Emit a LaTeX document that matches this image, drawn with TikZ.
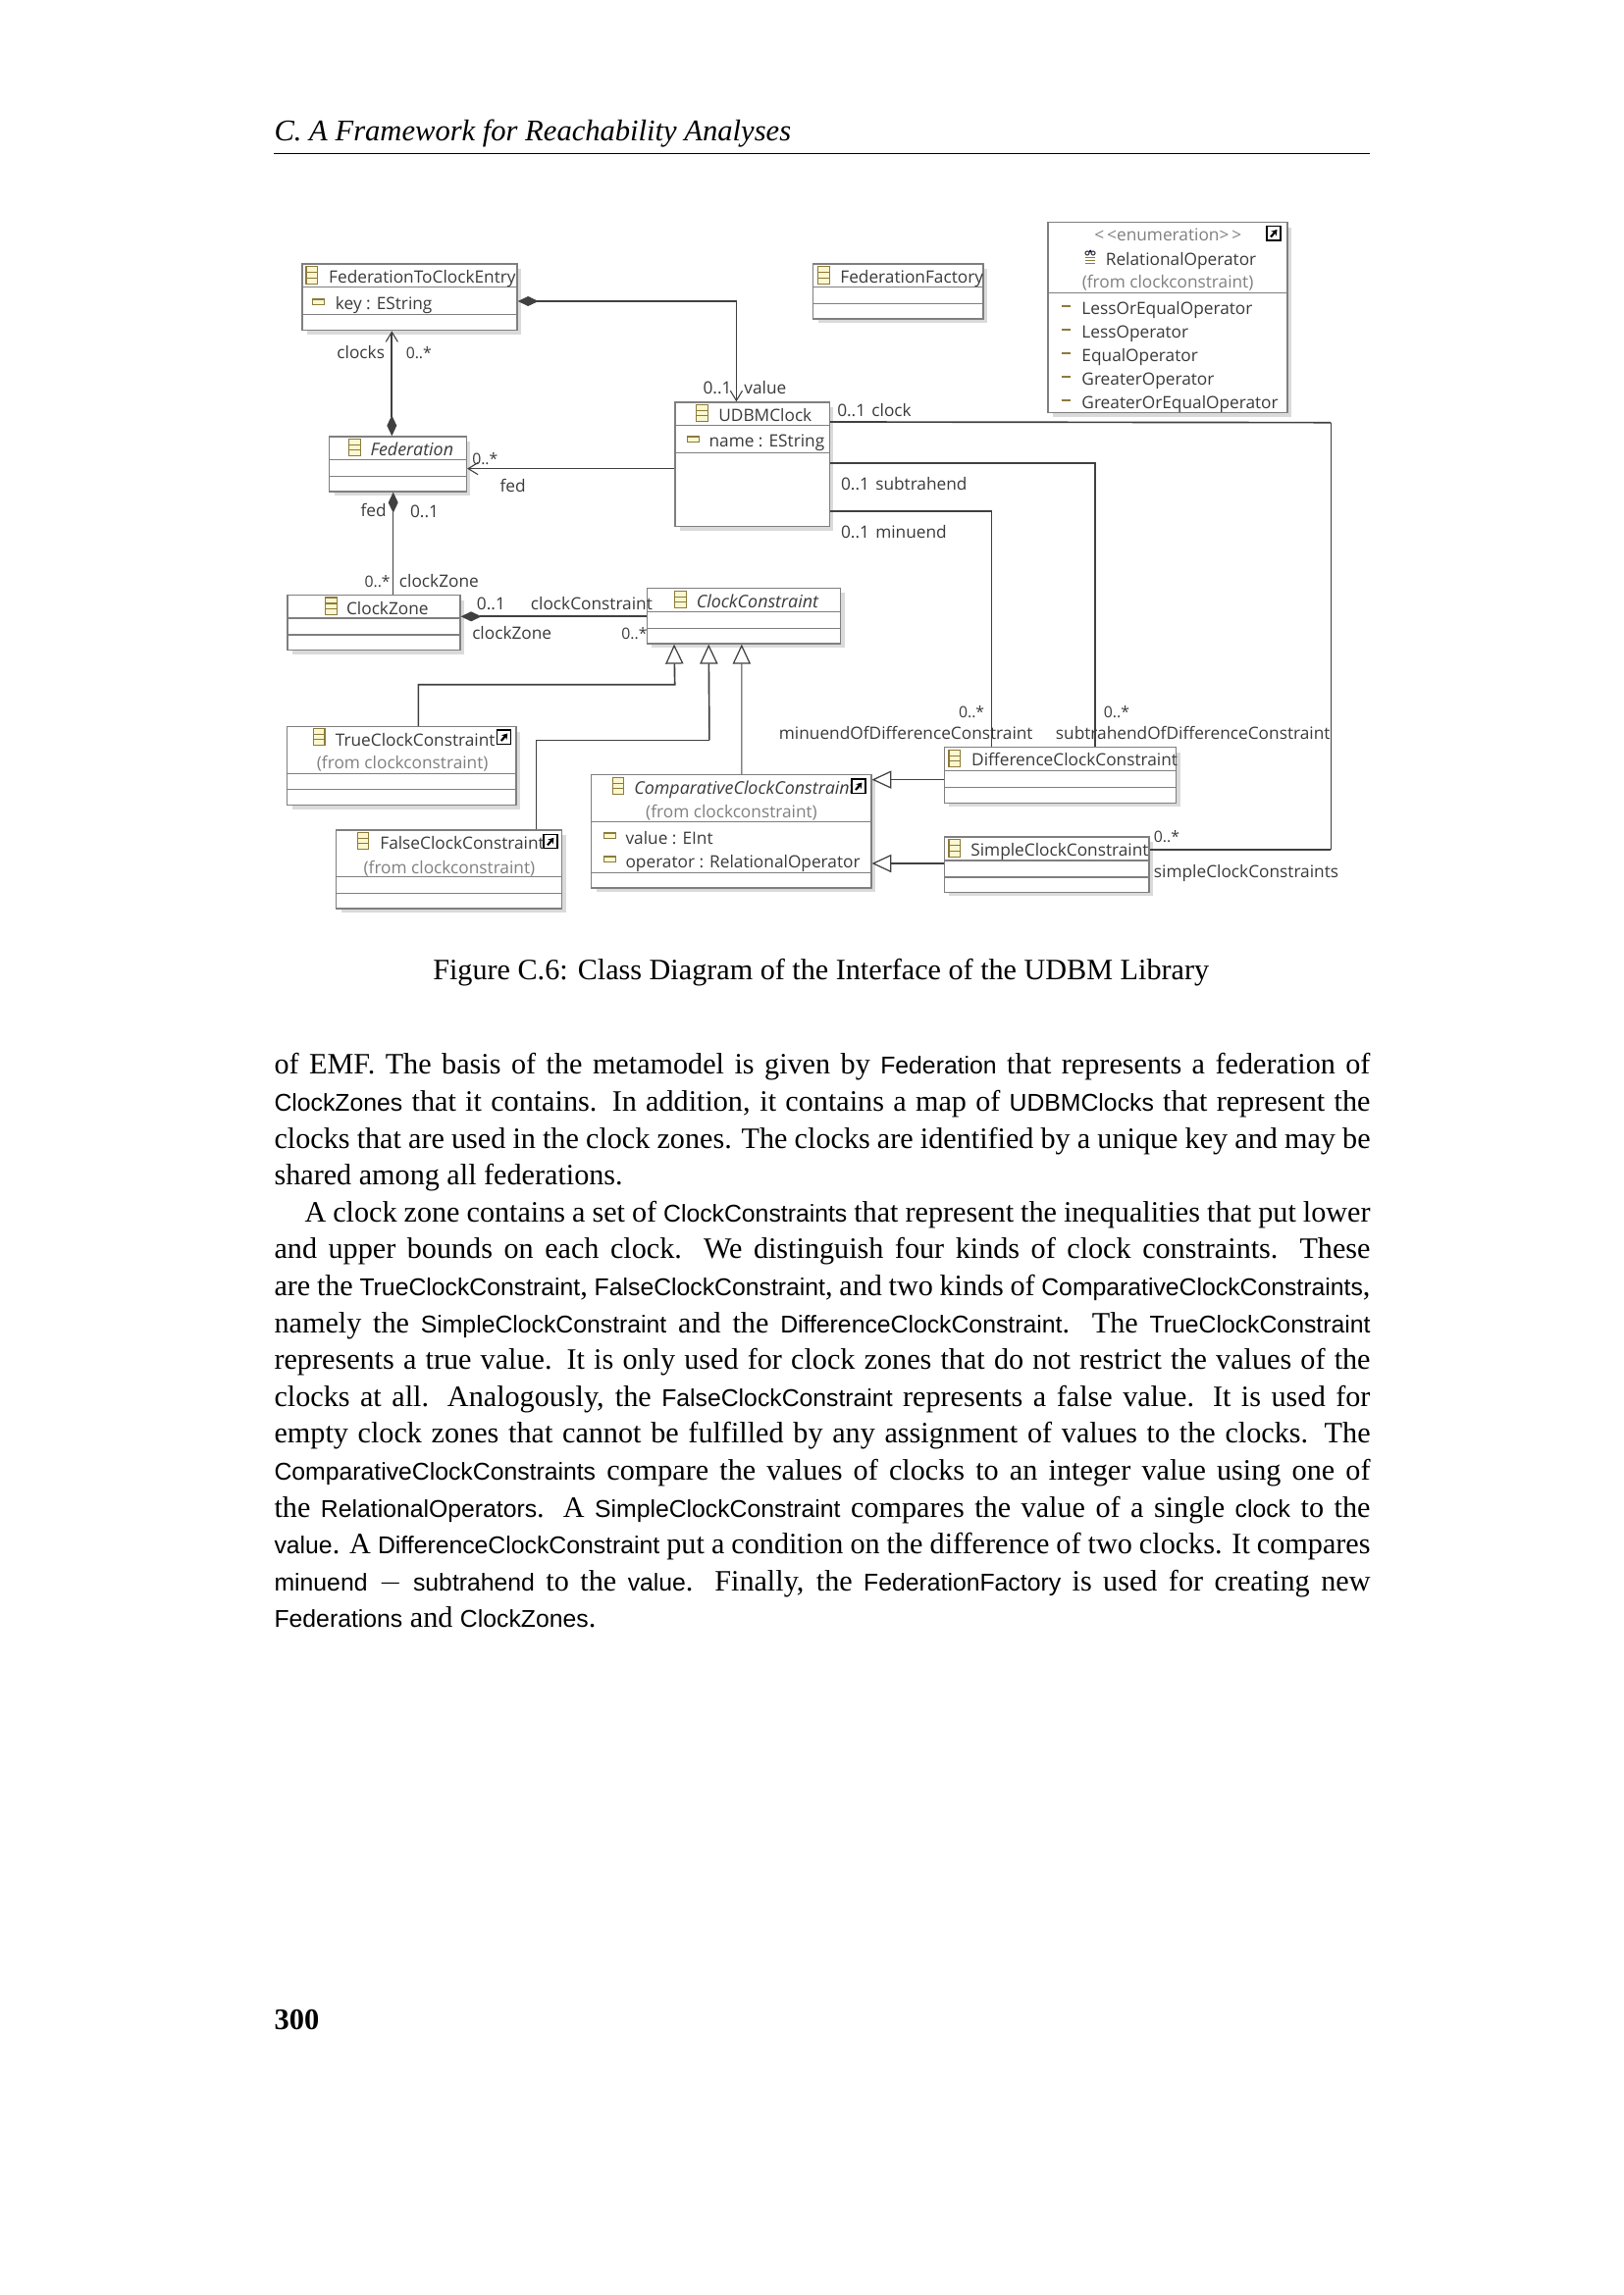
\documentclass[tikz,border=0pt]{standalone}
\usepackage{fontspec}
\setmainfont{Liberation Serif}
\setsansfont{Liberation Sans}
\newfontfamily\umlf{Open Sans}
\usetikzlibrary{arrows.meta,fit}
\definecolor{umlline}{HTML}{404040}
\definecolor{umlbox}{HTML}{7F7F7F}
\definecolor{umlshade}{HTML}{DADADA}
\definecolor{umltext}{HTML}{3A3A3A}
\definecolor{umlgray}{HTML}{808080}
\definecolor{iconedge}{HTML}{8C7A3C}
\definecolor{iconfill}{HTML}{FBF7CF}
\tikzset{
  classnode/.style={draw=umlbox,line width=0.5pt,fill=white,inner sep=0pt},
  compart/.style={draw=umlbox,line width=0.45pt},
  lbl/.style={anchor=base west,inner sep=0pt,text=umltext,font=\umlf\fontsize{6.24}{7}\selectfont},
  graylbl/.style={lbl,text=umlgray},
  itlbl/.style={lbl,font=\umlf\itshape\fontsize{6.45}{7}\selectfont},
  multlbl/.style={lbl,font=\umlf\fontsize{5.7}{7}\selectfont},
  thinline/.style={draw=umlline,line width=0.36pt},
  thickline/.style={draw=umlline,line width=0.6pt},
  openend/.style={-{Straight Barb[length=3.6pt,width=4.4pt,line width=0.4pt]}},
  diamondend/.style={{Diamond[length=7.6pt,width=3.6pt,fill=umlline]}-},
  diamondopen/.style={{Diamond[length=7.6pt,width=3.6pt,fill=umlline]}-{Straight Barb[length=3.6pt,width=4.4pt,line width=0.4pt]}},
  genend/.style={-{Triangle[open,length=7.2pt,width=6.6pt,line width=0.45pt,fill=white]}}
}
\newcommand{\umlclass}[7]{%
  \fill[umlshade] (#2+5,#3+5) rectangle (#4+4,#5+4);
  \node[classnode,fit={(#2,#3)(#4,#5)}] (#1) {};
  \draw[compart] (#2,#6) -- (#4,#6) (#2,#7) -- (#4,#7);
}
\newcommand{\classicon}[2]{%
  \draw[draw=iconedge,fill=iconfill,line width=0.4pt] (#1,#2) rectangle (#1+11.5,#2+17.5);
  \draw[draw=iconedge,line width=0.4pt] (#1,#2+6) -- (#1+11.5,#2+6) (#1,#2+11.5) -- (#1+11.5,#2+11.5);
}
\newcommand{\attricon}[2]{%
  \draw[draw=iconedge,fill=iconfill,line width=0.35pt] (#1,#2) rectangle (#1+12,#2+6);
  \draw[draw=iconedge,line width=0.6pt] (#1,#2+0.5) -- (#1+12,#2+0.5);
}
\newcommand{\shortcut}[2]{%
  \draw[draw=black,fill=white,line width=0.4pt] (#1,#2) rectangle (#1+14,#2+14.5);
  \draw[draw=black,line width=0.8pt,-{Stealth[length=2pt,width=2.6pt]}] (#1+4,#2+11) -- (#1+10.5,#2+3.5);
}
\newcommand{\term}[1]{{\sffamily\fontsize{8.95}{13.59}\selectfont #1}}
\newcommand{\jline}[1]{\hbox to 403.6pt{#1}\par}
\begin{document}
\begin{tikzpicture}[x=0.36135pt,y=-0.36135pt]
\useasboundingbox (0,0) rectangle (1654,2339);
\node[anchor=base west,inner sep=0pt,font=\itshape\fontsize{11.05}{13.59}\selectfont] (head) at (279,143.5) {C. A Framework for Reachability Analyses};
\coordinate (ruleL) at (279,156.3);
\coordinate (ruleR) at (1396,156.3);
\draw[line width=0.4pt] (ruleL) -- (ruleR);

\umlclass{entry}{307.9}{269}{527}{336.7}{292.7}{320.7}
\umlclass{fact}{828.6}{269}{1002}{325}{292.7}{309.3}
\umlclass{relop}{1067.8}{226.7}{1312}{420.7}{298.3}{298.3}
\umlclass{fed}{335.7}{445}{475.4}{501}{468.3}{485.3}
\umlclass{udbm}{687.9}{410}{845.4}{536.7}{433.3}{461.7}
\umlclass{zone}{292.9}{606.7}{468.9}{662.7}{630}{647}
\umlclass{constr}{659.3}{599.3}{856.5}{656}{623.3}{640.3}
\umlclass{trueC}{292.7}{740.7}{526}{820.7}{788.3}{804.7}
\umlclass{falseC}{342.5}{846}{572.6}{926}{893.7}{910.7}
\umlclass{compC}{602.7}{789.7}{887.8}{905}{837.3}{889.3}
\umlclass{diffC}{962.3}{761.7}{1198.7}{818.3}{785.3}{802.3}
\umlclass{simpleC}{962.3}{853}{1171}{909.3}{877}{894}

\coordinate (entryR) at ([shift={(0,4.15)}]entry.east);
\coordinate (valueUp) at ([shift={(63.2,0)}]udbm.north west);
\draw[thickline,diamondopen] (entryR) -| (valueUp);
\coordinate (fedUp) at ([shift={(64.3,0)}]fed.north west);
\draw[thickline,diamondopen] (fedUp) -- (fedUp |- entry.south);
\coordinate (udbmL) at ([shift={(0,68.3)}]udbm.north west);
\draw[thinline,openend] (udbmL) -- (udbmL -| fed.east);
\coordinate (fedDown) at ([shift={(65.7,0)}]fed.south west);
\draw[thinline,diamondend] (fedDown) -- (fedDown |- zone.north);
\coordinate (zoneR) at ([shift={(0,22.3)}]zone.north east);
\draw[thickline,diamondend] (zoneR) -- (zoneR -| constr.west);

\coordinate (clockR) at ([shift={(0,20.7)}]udbm.north east);
\coordinate (simpleR) at ([shift={(0,13.7)}]simpleC.north east);
\coordinate (clockCorner) at (1356.4,430.7);
\draw[thickline] (clockR) -- (clockCorner);
\draw[thinline] (clockCorner) -- (clockCorner |- simpleR);
\draw[thickline] (clockCorner |- simpleR) -- (simpleR);
\coordinate (subR) at ([shift={(0,62.7)}]udbm.north east);
\coordinate (subD) at ([shift={(154.7,0)}]diffC.north west);
\draw[thickline] (subR) -| (subD);
\coordinate (minR) at ([shift={(0,112)}]udbm.north east);
\coordinate (minD) at ([shift={(49,0)}]diffC.north west);
\draw[thickline] (minR) -- (minR -| minD);
\draw[thinline] (minR -| minD) -- (minD);

\coordinate (gA) at ([shift={(28.4,0)}]constr.south west);
\coordinate (gB) at ([shift={(63.6,0)}]constr.south west);
\coordinate (gC) at ([shift={(97.2,0)}]constr.south west);
\coordinate (tTrue) at ([shift={(134.4,0)}]trueC.north west);
\coordinate (tFalse) at ([shift={(204.4,0)}]falseC.north west);
\coordinate (tComp) at ([shift={(153.8,0)}]compC.north west);
\draw[thickline,genend] (tTrue) |- (687.7,697.7) -- (gA);
\draw[thinline] (tFalse) |- (722.9,754.3);
\draw[thickline,genend] (722.9,754.3) -- (gB);
\draw[thinline,genend] (tComp) -- (gC);
\coordinate (compE1) at ([shift={(0,5.6)}]compC.north east);
\coordinate (compE2) at ([shift={(0,91)}]compC.north east);
\draw[thinline,genend] (compE1 -| diffC.west) -- (compE1);
\draw[thickline,genend] (compE2 -| simpleC.west) -- (compE2);

\classicon{312}{271.7}
\classicon{833.6}{271.7}
\classicon{355.7}{447.3}
\classicon{709.6}{412.3}
\classicon{331.8}{609}
\classicon{687.9}{602.3}
\classicon{319.5}{742.3}
\classicon{364.2}{848.3}
\classicon{624.4}{792.3}
\classicon{967}{764.3}
\classicon{967}{855.7}
\attricon{318.6}{304.3}
\attricon{700.4}{444.3}
\attricon{615.3}{848.3}
\attricon{615.3}{872.3}
\shortcut{506.8}{744}
\shortcut{554}{850.3}
\foreach \ly in {312,336,360,384,408}
  \draw[draw=iconedge,line width=0.7pt] (1081.6,\ly) -- (1091,\ly);
\draw[draw=iconedge,line width=0.5pt] (1106,262.5) -- (1116,262.5) (1106,265.5) -- (1116,265.5) (1106,268.5) -- (1116,268.5);
\draw[draw=umlline,line width=0.4pt] (1108,258) circle (2) (1114,258) circle (2);
\fill[blue!40!black] (1111,256) circle (1.5);

\node[lbl] (nEntry) at (334.6,289) {FederationToClockEntry};
\node[lbl] (nKey) at (341.4,315.3) {key : EString};
\node[lbl] (nFact) at (855.8,289) {FederationFactory};
\node[graylbl] (nStereo) at (1114.9,246) {<\,<enumeration>\,>};
\node[lbl] (nRelop) at (1126.3,270.7) {RelationalOperator};
\node[graylbl] (nFromA) at (1102.2,294) {(from clockconstraint)};
\node[lbl] (nLitA) at (1101.9,321) {LessOrEqualOperator};
\node[lbl] (nLitB) at (1101.9,345) {LessOperator};
\node[lbl] (nLitC) at (1101.9,369) {EqualOperator};
\node[lbl] (nLitD) at (1101.9,393) {GreaterOperator};
\node[lbl] (nLitE) at (1101.9,417) {GreaterOrEqualOperator};
\node[itlbl] (nFed) at (377,465) {Federation};
\node[lbl] (nUdbm) at (731.8,429.3) {UDBMClock};
\node[lbl] (nName) at (722,456) {name : EString};
\node[lbl] (nZone) at (352.5,626.7) {ClockZone};
\node[itlbl] (nConstr) at (709.3,619.3) {ClockConstraint};
\node[lbl] (nTrue) at (341.3,760) {TrueClockConstraint};
\node[graylbl] (nFromB) at (322.3,784) {(from clockconstraint)};
\node[lbl] (nFalse) at (386.8,865.7) {FalseClockConstraint};
\node[graylbl] (nFromC) at (370,890) {(from clockconstraint)};
\node[itlbl] (nComp) at (645.8,809.3) {ComparativeClockConstraint};
\node[graylbl] (nFromD) at (657.6,833.3) {(from clockconstraint)};
\node[lbl] (nValue) at (637,860) {value : EInt};
\node[lbl] (nOper) at (637,884.3) {operator : RelationalOperator};
\node[lbl] (nDiff) at (989.6,781) {DifferenceClockConstraint};
\node[lbl] (nSimple) at (988.8,872.7) {SimpleClockConstraint};
\shortcut{868}{794}
\shortcut{1291}{230.5}

\node[lbl] (rClocks) at (342.9,366) {clocks};
\node[multlbl] (mClocks) at (413.2,366) {0..*};
\node[multlbl] (mFedA) at (480.7,473.3) {0..*};
\node[lbl] (rFedA) at (509,501.7) {fed};
\node[lbl] (rFedB) at (367,526.7) {fed};
\node[lbl] (mFedB) at (417.5,527.7) {0..1};
\node[multlbl] (mZoneA) at (371,598.3) {0..*};
\node[lbl] (rZoneA) at (406.4,598.3) {clockZone};
\node[lbl] (mZoneB) at (485.4,622) {0..1};
\node[lbl] (rConstr) at (540.4,621.3) {clockConstraint};
\node[lbl] (rZoneB) at (480.7,652) {clockZone};
\node[multlbl] (mConstr) at (632.9,652) {0..*};
\node[lbl] (mValue) at (716,401.7) {0..1};
\node[lbl] (rValue) at (757.9,401.7) {value};
\node[lbl] (mClock) at (852.7,425) {0..1};
\node[lbl] (rClock) at (887.9,425) {clock};
\node[lbl] (mSub) at (856.5,500) {0..1};
\node[lbl] (rSub) at (891.7,500) {subtrahend};
\node[lbl] (mMin) at (856.5,549) {0..1};
\node[lbl] (rMin) at (891.7,549) {minuend};
\node[multlbl] (mDiffA) at (976.5,731.7) {0..*};
\node[lbl] (rDiffA) at (793.3,753.3) {minuendOfDifferenceConstraint};
\node[multlbl] (mDiffB) at (1124.4,731.7) {0..*};
\node[lbl] (rDiffB) at (1075.4,753.3) {subtrahendOfDifferenceConstraint};
\node[multlbl] (mSimple) at (1175.4,858.3) {0..*};
\node[lbl] (rSimple) at (1175.4,894.3) {simpleClockConstraints};

\node[anchor=base,inner sep=0pt,font=\fontsize{10.9}{13.59}\selectfont] (caption) at (836.7,998) {Figure C.6: Class Diagram of the Interface of the UDBM Library};
\node[anchor=north west,inner sep=0pt,text width=403.6pt,font=\fontsize{10.9}{13.59}\selectfont] (body) at (279,1073) {%
\spaceskip=0pt\xspaceskip=0pt
\jline{of EMF. The basis of the metamodel is given by \term{Federation} that represents a federation of}
\jline{\term{ClockZones} that it contains. In addition, it contains a map of \term{UDBMClocks} that represent the}
\jline{clocks that are used in the clock zones. The clocks are identified by a unique key and may be}
\hbox{shared among all federations.}\par
\jline{\hspace*{11.2pt}A clock zone contains a set of \term{ClockConstraints} that represent the inequalities that put lower}
\jline{and upper bounds on each clock. We distinguish four kinds of clock constraints. These}
\jline{are the \term{TrueClockConstraint}, \term{FalseClockConstraint}, and two kinds of \term{ComparativeClockConstraints},}
\jline{namely the \term{SimpleClockConstraint} and the \term{DifferenceClockConstraint}. The \term{TrueClockConstraint}}
\jline{represents a true value. It is only used for clock zones that do not restrict the values of the}
\jline{clocks at all. Analogously, the \term{FalseClockConstraint} represents a false value. It is used for}
\jline{empty clock zones that cannot be fulfilled by any assignment of values to the clocks. The}
\jline{\term{ComparativeClockConstraints} compare the values of clocks to an integer value using one of}
\jline{the \term{RelationalOperators}. A \term{SimpleClockConstraint} compares the value of a single \term{clock} to the}
\jline{\term{value}. A \term{DifferenceClockConstraint} put a condition on the difference of two clocks. It compares}
\jline{\term{minuend} $-$ \term{subtrahend} to the \term{value}. Finally, the \term{FederationFactory} is used for creating new}
\hbox{\term{Federations} and \term{ClockZones}.}};
\node[anchor=base west,inner sep=0pt,font=\bfseries\fontsize{11}{13.59}\selectfont] (pageno) at (279,2068) {300};
\end{tikzpicture}
\end{document}
